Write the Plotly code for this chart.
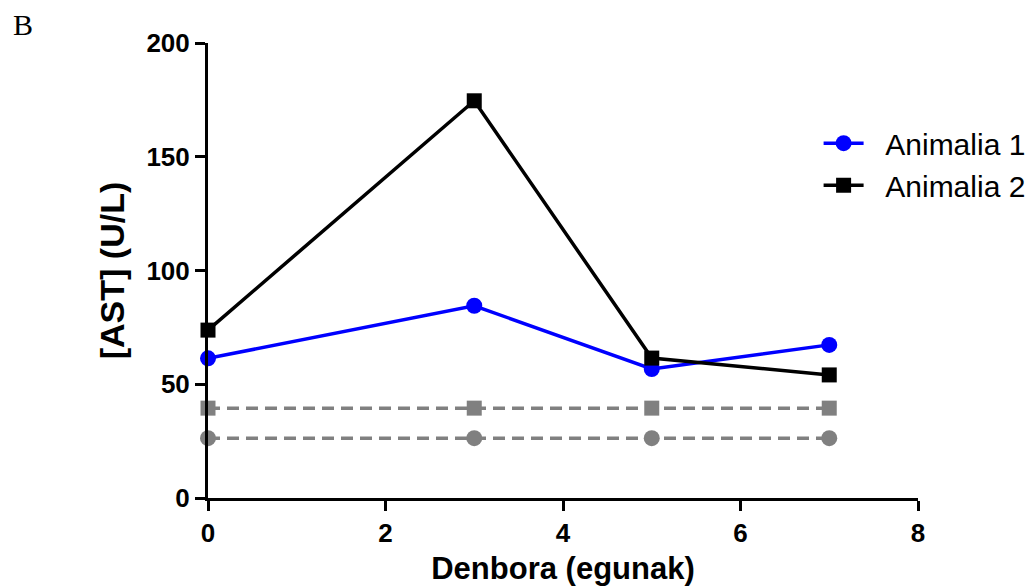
import plotly.graph_objects as go

days = [0, 3, 5, 7]
animal1 = [61.4, 84.5, 56.7, 67.3]
animal2 = [73.8, 174.6, 61.5, 54.1]
ref_upper = [39.5, 39.5, 39.5, 39.5]
ref_lower = [26.3, 26.3, 26.3, 26.3]

xticks = [0, 2, 4, 6, 8]
yticks = [0, 50, 100, 150, 200]

fig = go.Figure()
fig.add_trace(go.Scatter(x=days, y=ref_upper, mode="lines+markers", showlegend=False,
                         line=dict(color="#808080", width=3.5, dash="12px,7px"),
                         marker=dict(symbol="square", size=15, color="#808080"), cliponaxis=False))
fig.add_trace(go.Scatter(x=days, y=ref_lower, mode="lines+markers", showlegend=False,
                         line=dict(color="#808080", width=3.5, dash="12px,7px"),
                         marker=dict(symbol="circle", size=16, color="#808080"), cliponaxis=False))
fig.add_trace(go.Scatter(x=days, y=animal1, mode="lines+markers", name="\u00a0\u00a0Animalia 1",
                         line=dict(color="#0000ff", width=3.5),
                         marker=dict(symbol="circle", size=16, color="#0000ff"), cliponaxis=False))
fig.add_trace(go.Scatter(x=days, y=animal2, mode="lines+markers", name="\u00a0\u00a0Animalia 2",
                         line=dict(color="#000000", width=3.5),
                         marker=dict(symbol="square", size=15, color="#000000"), cliponaxis=False))

axis_font = dict(family="Liberation Sans", size=26, color="black")
fig.update_layout(
    width=1034, height=586,
    margin=dict(l=208, r=116, t=43, b=88, autoexpand=False),
    paper_bgcolor="white", plot_bgcolor="white",
    font=dict(family="Liberation Sans", color="black"),
    xaxis=dict(range=[0, 8], tickvals=xticks, ticktext=[f"<b>{v}</b>" for v in xticks],
               showgrid=False, zeroline=False, showline=True, linecolor="black", linewidth=3,
               ticks="outside", ticklen=10, tickwidth=3, tickcolor="black", tickfont=axis_font,
               title=dict(text="<b>Denbora (egunak)</b>", font=dict(family="Liberation Sans", size=31), standoff=16)),
    yaxis=dict(range=[0, 200], tickvals=yticks, ticktext=[f"<b>{v}</b>" for v in yticks],
               showgrid=False, zeroline=False, showline=True, linecolor="black", linewidth=3,
               ticks="outside", ticklen=10, tickwidth=3, tickcolor="black", tickfont=axis_font,
               title=dict(text="<b>[AST] (U/L)</b>", font=dict(family="Liberation Sans", size=34), standoff=12)),
    legend=dict(x=0.86, y=0.837, xanchor="left", yanchor="top", font=dict(family="Liberation Sans", size=30),
                bgcolor="rgba(0,0,0,0)", itemwidth=40, tracegroupgap=0),
)
fig.add_annotation(text="B", xref="paper", yref="paper", x=-0.278, y=1.04, xanchor="left", yanchor="middle",
                   showarrow=False, font=dict(family="Liberation Serif", size=30, color="black"))

fig.write_html("out.html")
